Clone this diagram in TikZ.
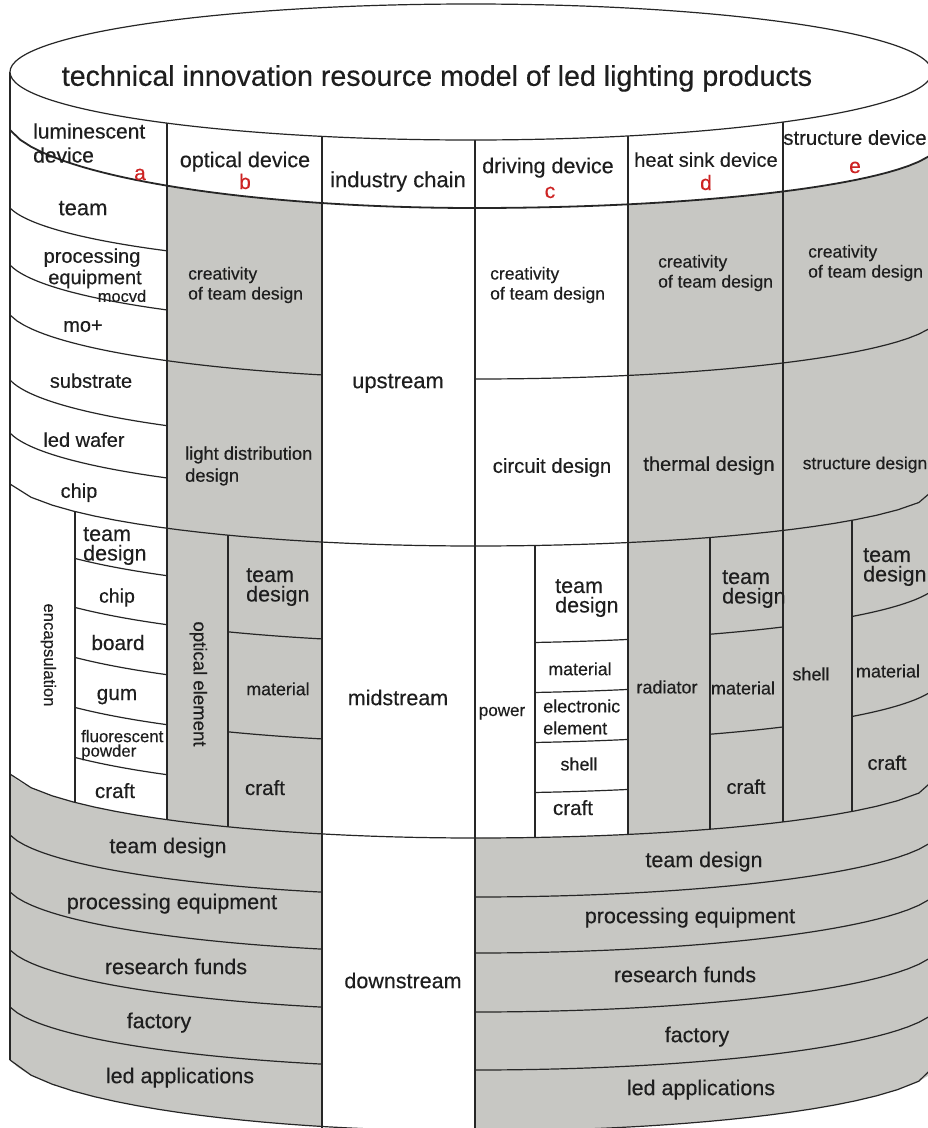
\documentclass[tikz,border=0pt]{standalone}
\usepackage{fontspec}
\setmainfont{Liberation Sans}[FakeBold=0.35]
\definecolor{panelgray}{RGB}{199,199,195}
\definecolor{tagred}{RGB}{205,35,35}
\definecolor{ink}{RGB}{30,30,30}
\newcommand\fs[2]{\fontsize{#1}{#2}\selectfont}
% one curved band line of the cylinder: from x=#1 to x=#2, level #3 at the front, sag #4 (left half) and #5 (right half)
\newcommand\arcline[5]{\draw[bandline] plot[domain=#1:#2,samples=45] (\x,{cy(\x,#3,#4,#5)});}
\begin{document}
\begin{tikzpicture}[x=1pt,y=-1pt,
  declare function={
    cy(\qx,\qc,\ql,\qr)=\qc-ifthenelse(\qx<475,
        \ql*(1-sqrt(max(0,1-((\qx-475)/470)^2)))/0.8544,
        \qr*(1-sqrt(max(0,1-((\qx-475)/465)^2))));
    topb(\qx)=72+68*sqrt(max(0,1-((\qx-471)/461)^2));
  },
  bandline/.style={line width=1.2pt, draw=black!85, line join=round},
  grayfill/.style={fill=panelgray},
  lbl/.style={inner sep=0pt, text=ink, font=\fs{21.5}{25.8}, execute at begin node=\strut},
  plain/.style={inner sep=0pt, text=ink},
  multi/.style={inner sep=0pt, text=ink, align=left},
  tag/.style={lbl, font=\fs{21}{25}, text=tagred},
]
\useasboundingbox (0,0) rectangle (928,1128);
\clip (0,0) rectangle (928,1128);
\fill[white] (0,0) rectangle (928,1128);

% shaded panels
\fill[grayfill] plot[domain=167:322,samples=30] (\x,{cy(\x,208,78,66)})
  -- plot[domain=322:167,samples=30] (\x,{cy(\x,838,64,64)}) -- cycle;
\fill[grayfill] plot[domain=628:940,samples=45] (\x,{cy(\x,208,78,66)})
  -- plot[domain=940:628,samples=45] (\x,{cy(\x,838,64,64)}) -- cycle;
\fill[grayfill] plot[domain=10:322,samples=45] (\x,{cy(\x,838,64,64)})
  -- plot[domain=322:10,samples=45] (\x,{cy(\x,1131,71,71)}) -- cycle;
\fill[grayfill] plot[domain=475:940,samples=45] (\x,{cy(\x,838,64,64)})
  -- plot[domain=940:475,samples=45] (\x,{cy(\x,1131,71,71)}) -- cycle;

% header row bottom
\draw[bandline, line width=1.8pt] plot[domain=10:940,samples=90] (\x,{cy(\x,208,78,66)});
% upstream bands
\arcline{10}{167}{268}{60}{60}
\arcline{10}{167}{328}{63}{63}
\arcline{10}{322}{379}{64}{64}
\arcline{475}{940}{379}{64}{64}
\arcline{10}{167}{444}{64}{64}
\arcline{10}{167}{496}{63}{63}
% upstream / midstream
\arcline{10}{940}{546}{62}{62}
% midstream cells
\foreach \yy in {594,643,693,743,793}{\arcline{75}{167}{\yy}{64}{64}}
\foreach \yy in {643,743}{\arcline{228}{322}{\yy}{64}{64}}
\foreach \yy in {643,693,743,793}{\arcline{535}{628}{\yy}{64}{64}}
\foreach \yy in {643,743}{\arcline{710}{783}{\yy}{64}{64}}
\foreach \yy in {643,743}{\arcline{852}{940}{\yy}{64}{64}}
% midstream / downstream
\arcline{10}{940}{838}{64}{64}
% downstream bands
\foreach \yy in {896,953,1011,1068}{\arcline{10}{322}{\yy}{61}{61}}
\foreach \yy in {897,953,1012,1070}{\arcline{475}{940}{\yy}{68}{68}}
% base of the cylinder
\arcline{10}{940}{1131}{71}{71}

% vertical walls and dividers
\draw[bandline] (10,{topb(10)}) -- (10,{cy(10,1131,71,71)});
\foreach \xx in {167,628,783}{\draw[bandline] (\xx,{topb(\xx)}) -- (\xx,{cy(\xx,838,64,64)});}
\foreach \xx in {322,475}{\draw[bandline] (\xx,{topb(\xx)}) -- (\xx,1131);}
\foreach \xx in {75,228,535,710,852}{\draw[bandline] (\xx,{cy(\xx,546,62,62)}) -- (\xx,{cy(\xx,838,64,64)});}

% top face
\draw[bandline, fill=white] (471,72) ellipse [x radius=461pt, y radius=68pt];
\node[lbl, font=\fs{28.6}{34}] (title) at (437,79) {technical innovation resource model of led lighting products};

% column headers
\node[multi, anchor=west, font=\fs{21}{24}] (hA) at (33,143) {luminescent\\device};
\node[tag] (tA) at (140,175) {a};
\node[lbl] (hB) at (245,162) {optical device};
\node[tag] (tB) at (245,184) {b};
\node[lbl, font=\fs{22}{26}] (hI) at (398,182) {industry chain};
\node[lbl] (hC) at (548,168) {driving device};
\node[tag] (tC) at (550,193) {c};
\node[lbl, font=\fs{20}{24}] (hD) at (706,162) {heat sink device};
\node[tag] (tD) at (706,185) {d};
\node[lbl, font=\fs{20.3}{24}] (hE) at (855,140) {structure device};
\node[tag] (tE) at (855,168) {e};

% industry chain stages
\node[lbl, font=\fs{22}{26}] (up) at (398,383) {upstream};
\node[lbl] (mid) at (398,700) {midstream};
\node[lbl] (down) at (403,983) {downstream};

% luminescent device, upstream
\node[lbl, font=\fs{22}{26}] (aTeam) at (83,210) {team};
\node[lbl, font=\fs{20}{24}] (aProc) at (92,258) {processing};
\node[plain, font=\fs{20}{24}] (aEquip) at (95,279) {equipment};
\node[plain, font=\fs{16.4}{19}] (aMocvd) at (122,296) {mocvd};
\node[lbl, font=\fs{20}{24}] (aMo) at (83,327) {mo+};
\node[lbl, font=\fs{20}{24}] (aSub) at (91,383) {substrate};
\node[lbl, font=\fs{20}{24}] (aWafer) at (84,442) {led wafer};
\node[lbl, font=\fs{20}{24}] (aChip) at (79,493) {chip};

% optical device, upstream
\node[multi, anchor=west, font=\fs{17.5}{20}] (bCreat) at (188,285) {creativity\\of team design};
\node[multi, anchor=west, font=\fs{18.3}{22}] (bLight) at (185,466) {light distribution\\design};

% driving device, upstream
\node[multi, anchor=west, font=\fs{17.5}{20}] (cCreat) at (490,285) {creativity\\of team design};
\node[lbl, font=\fs{20.3}{24}] (cCirc) at (552,468) {circuit design};

% heat sink device, upstream
\node[multi, anchor=west, font=\fs{17.5}{20}] (dCreat) at (658,273) {creativity\\of team design};
\node[lbl, font=\fs{20}{24}] (dTherm) at (709,466) {thermal design};

% structure device, upstream
\node[multi, anchor=west, font=\fs{17.5}{20}] (eCreat) at (808,263) {creativity\\of team design};
\node[lbl, font=\fs{17.5}{21}] (eStruct) at (865,465) {structure design};

% luminescent device, midstream
\node[lbl, font=\fs{16.7}{20}, rotate=-90] (aEnc) at (48,655) {encapsulation};
\node[multi, anchor=west, font=\fs{21.5}{19.5}] (aTD) at (83,546) {team\\design};
\node[lbl, font=\fs{19.5}{23}] (aChip2) at (117,598) {chip};
\node[lbl, font=\fs{20.8}{25}] (aBoard) at (118,645) {board};
\node[lbl, font=\fs{20.8}{25}] (aGum) at (117,695) {gum};
\node[multi, anchor=west, font=\fs{16.8}{14.5}] (aFluo) at (81,745) {fluorescent\\powder};
\node[lbl, font=\fs{20.6}{25}] (aCraft) at (115,793) {craft};

% optical device, midstream
\node[lbl, font=\fs{18.6}{22}, rotate=-90] (bOpt) at (198,684) {optical element};
\node[multi, anchor=west, font=\fs{21.5}{19.5}] (bTD) at (246,587) {team\\design};
\node[lbl, font=\fs{17.8}{21}] (bMat) at (278,691) {material};
\node[lbl, font=\fs{20.6}{25}] (bCraft) at (265,790) {craft};

% driving device, midstream
\node[lbl, font=\fs{17}{20}] (cPower) at (502,712) {power};
\node[multi, anchor=west, font=\fs{21.5}{19.5}] (cTD) at (555,598) {team\\design};
\node[lbl, font=\fs{17.8}{21}] (cMat) at (580,671) {material};
\node[multi, anchor=west, font=\fs{18}{22}] (cElec) at (543,717) {electronic\\element};
\node[lbl, font=\fs{18}{22}] (cShell) at (579,766) {shell};
\node[lbl, font=\fs{20.6}{25}] (cCraft) at (573,810) {craft};

% heat sink device, midstream
\node[lbl, font=\fs{18}{22}] (dRad) at (667,689) {radiator};
\node[multi, anchor=west, font=\fs{21.5}{19.5}] (dTD) at (722,589) {team\\design};
\node[lbl, font=\fs{18}{22}] (dMat) at (743,690) {material};
\node[lbl, font=\fs{20}{24}] (dCraft) at (746,789) {craft};

% structure device, midstream
\node[lbl, font=\fs{18}{22}] (eShell) at (811,676) {shell};
\node[multi, anchor=west, font=\fs{21.5}{19.5}] (eTD) at (863,567) {team\\design};
\node[lbl, font=\fs{18}{22}] (eMat) at (888,673) {material};
\node[lbl, font=\fs{20}{24}] (eCraft) at (887,765) {craft};

% downstream resources
\node[lbl] (lTeam) at (168,848) {team design};
\node[lbl] (lProc) at (172,904) {processing equipment};
\node[lbl] (lFund) at (176,969) {research funds};
\node[lbl] (lFact) at (159,1023) {factory};
\node[lbl] (lApp) at (180,1078) {led applications};
\node[lbl] (rTeam) at (704,862) {team design};
\node[lbl] (rProc) at (690,918) {processing equipment};
\node[lbl] (rFund) at (685,977) {research funds};
\node[lbl] (rFact) at (697,1037) {factory};
\node[lbl] (rApp) at (701,1090) {led applications};
\end{tikzpicture}
\end{document}
